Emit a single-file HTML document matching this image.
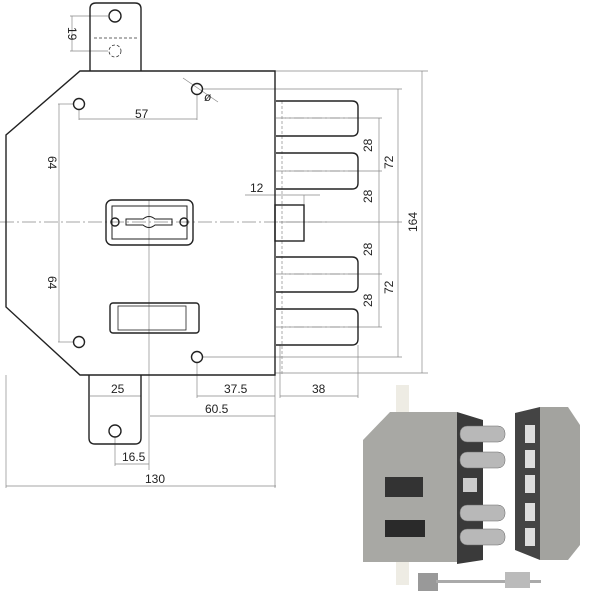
<!DOCTYPE html>
<html><head><meta charset="utf-8"><style>
html,body{margin:0;padding:0;background:#fff;width:600px;height:600px;overflow:hidden}
svg{display:block}
text{font-family:"Liberation Sans",sans-serif;font-size:12px;fill:#222}
</style></head><body>
<svg width="600" height="600" viewBox="0 0 600 600" xmlns="http://www.w3.org/2000/svg">
<g fill="none" stroke="#888" stroke-width="0.7">
 <!-- center lines -->
 <line x1="0" y1="222" x2="330" y2="222" stroke-dasharray="14,3,2,3"/>
 <line x1="149" y1="200" x2="149" y2="470"/>
 <!-- 19 dim -->
 <line x1="70" y1="16" x2="108" y2="16"/><line x1="70" y1="51" x2="108" y2="51"/><line x1="72" y1="16" x2="72" y2="51"/>
 <!-- 57 -->
 <line x1="79" y1="110" x2="79" y2="120"/><line x1="197" y1="95" x2="197" y2="120"/><line x1="79" y1="119" x2="197" y2="119"/>
 <!-- 64 -->
 <line x1="58" y1="104" x2="73" y2="104"/><line x1="58" y1="342" x2="73" y2="342"/><line x1="59" y1="104" x2="59" y2="342"/>
 <!-- right ext lines -->
 <line x1="275" y1="71" x2="428" y2="71"/><line x1="275" y1="373" x2="428" y2="373"/>
 <line x1="203" y1="89" x2="402" y2="89"/><line x1="203" y1="357" x2="402" y2="357"/>
 <line x1="285" y1="118" x2="382" y2="118"/><line x1="285" y1="171" x2="382" y2="171"/><line x1="285" y1="274" x2="382" y2="274"/><line x1="285" y1="327" x2="382" y2="327"/>
 <line x1="279" y1="222" x2="402" y2="222"/>
 <line x1="379" y1="118" x2="379" y2="327"/><line x1="398" y1="89" x2="398" y2="357"/><line x1="422" y1="71" x2="422" y2="373"/>
 <!-- 12 -->
 <line x1="245" y1="195" x2="320" y2="195"/><line x1="304" y1="195" x2="304" y2="205"/>
 <!-- bottom dims -->
 <line x1="90" y1="396" x2="141" y2="396"/>
 <line x1="197" y1="363" x2="197" y2="398"/><line x1="197" y1="396" x2="275" y2="396"/>
 <line x1="280" y1="345" x2="280" y2="398"/><line x1="358" y1="345" x2="358" y2="398"/><line x1="280" y1="396" x2="358" y2="396"/>
 <line x1="150" y1="416" x2="275" y2="416"/>
 <line x1="115" y1="437" x2="115" y2="466"/><line x1="115" y1="464" x2="149" y2="464"/>
 <line x1="6" y1="375" x2="6" y2="488"/><line x1="275" y1="375" x2="275" y2="488"/><line x1="6" y1="486" x2="276" y2="486"/>
 <line x1="183" y1="78" x2="218" y2="102"/>
 <!-- bolt centre lines -->
 <line x1="276" y1="118" x2="358" y2="118" stroke-dasharray="10,3,2,3"/><line x1="276" y1="171" x2="358" y2="171" stroke-dasharray="10,3,2,3"/>
 <line x1="276" y1="274" x2="358" y2="274" stroke-dasharray="10,3,2,3"/><line x1="276" y1="327" x2="358" y2="327" stroke-dasharray="10,3,2,3"/>
 <line x1="282" y1="101" x2="282" y2="375" stroke-dasharray="3,2"/>
</g>
<g fill="none" stroke="#222" stroke-width="1.4">
 <path d="M90,71 V9 Q90,3 96,3 H135 Q141,3 141,9 V71"/>
 <path d="M80,71 H275 V375 H80 L6,307 V135 Z"/>
 <path d="M89,375 V438 Q89,444 95,444 H135 Q141,444 141,438 V375"/>
 <circle cx="115" cy="16" r="6"/><circle cx="115" cy="431" r="6"/>
 <circle cx="79" cy="104" r="5.5"/><circle cx="197" cy="89" r="5.5"/><circle cx="79" cy="342" r="5.5"/><circle cx="197" cy="357" r="5.5"/>
 <rect x="106" y="200" width="87" height="45" rx="6"/>
 <rect x="112" y="206" width="75" height="33" stroke-width="1"/>
 <circle cx="115" cy="222" r="4"/><circle cx="184" cy="222" r="4"/>
 <path d="M126,219 H143 Q149,214 155,219 H172 V225 H155 Q149,230 143,225 H126 Z" stroke-width="1"/>
 <rect x="110" y="303" width="89" height="30" rx="3"/>
 <rect x="118" y="306" width="68" height="24" stroke-width="0.8"/>
 <path d="M276,101 H352 Q358,101 358,107 V130 Q358,136 352,136 H276"/>
 <path d="M276,153 H352 Q358,153 358,159 V183 Q358,189 352,189 H276"/>
 <path d="M276,257 H352 Q358,257 358,263 V286 Q358,292 352,292 H276"/>
 <path d="M276,309 H352 Q358,309 358,315 V339 Q358,345 352,345 H276"/>
 <rect x="275" y="205" width="29" height="36"/>
</g>
<g fill="none" stroke="#333" stroke-width="0.8" stroke-dasharray="3,2">
 <path d="M94,38 H137"/><circle cx="115" cy="51" r="6"/>
</g>
<text x="135" y="118">57</text>
<text x="250" y="192">12</text>
<text x="204" y="101" font-style="italic">ø</text>
<text x="111" y="393">25</text>
<text x="224" y="393">37.5</text>
<text x="312" y="393">38</text>
<text x="205" y="413">60.5</text>
<text x="122" y="461">16.5</text>
<text x="145" y="483">130</text>
<g>
 <text transform="translate(68,34) rotate(90)" x="-7" y="0">19</text>
 <text transform="translate(48,163) rotate(90)" x="-7" y="0">64</text>
 <text transform="translate(48,283) rotate(90)" x="-7" y="0">64</text>
 <text transform="translate(368,145) rotate(-90)" x="-7" y="4">28</text>
 <text transform="translate(368,196) rotate(-90)" x="-7" y="4">28</text>
 <text transform="translate(368,249) rotate(-90)" x="-7" y="4">28</text>
 <text transform="translate(368,300) rotate(-90)" x="-7" y="4">28</text>
 <text transform="translate(389,162) rotate(-90)" x="-7" y="4">72</text>
 <text transform="translate(389,287) rotate(-90)" x="-7" y="4">72</text>
 <text transform="translate(413,222) rotate(-90)" x="-10" y="4">164</text>
</g>
<!-- photo -->
<rect x="396" y="385" width="13" height="200" fill="#eeece4"/>
<polygon points="390,412 457,412 457,562 363,562 363,440" fill="#a8a8a4"/>
<polygon points="457,412 483,420 483,560 457,564" fill="#3a3a3a"/>
<g fill="#b8b8b8" stroke="#666" stroke-width="0.5">
 <rect x="460" y="426" width="45" height="16" rx="7"/>
 <rect x="460" y="452" width="45" height="16" rx="7"/>
 <rect x="460" y="505" width="45" height="16" rx="7"/>
 <rect x="460" y="529" width="45" height="16" rx="7"/>
</g>
<rect x="463" y="478" width="14" height="14" fill="#ccc"/>
<rect x="385" y="477" width="38" height="20" fill="#333"/>
<rect x="385" y="520" width="40" height="17" fill="#2a2a2a"/>
<polygon points="515,413 540,407 540,560 515,550" fill="#444"/>
<polygon points="540,407 568,407 580,425 580,545 568,560 540,560" fill="#a3a39f"/>
<g fill="#ddd"><rect x="525" y="425" width="10" height="18"/><rect x="525" y="450" width="10" height="18"/><rect x="525" y="475" width="10" height="18"/><rect x="525" y="503" width="10" height="18"/><rect x="525" y="528" width="10" height="18"/></g>
<rect x="418" y="573" width="20" height="18" fill="#999"/>
<rect x="436" y="580" width="105" height="3" fill="#aaa"/>
<rect x="505" y="572" width="25" height="16" fill="#bbb"/>
</svg>
</body></html>
